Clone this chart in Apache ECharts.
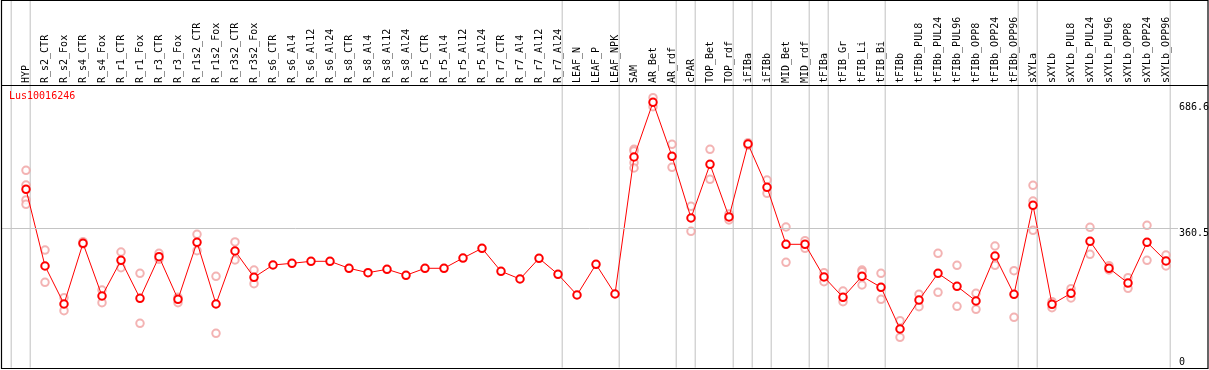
<!DOCTYPE html>
<html>
<head>
<meta charset="utf-8">
<style>
  html, body { margin: 0; padding: 0; background: #fff; }
  #chart { width: 1209px; height: 370px; }
</style>
<script src="https://cdn.jsdelivr.net/npm/echarts@6/dist/echarts.min.js"></script>
</head>
<body>
<div id="chart"></div>
<script>
const chartTitle = "Lus10016246";

const categories = [
  "HYP","R_s2_CTR","R_s2_Fox","R_s4_CTR","R_s4_Fox","R_r1_CTR","R_r1_Fox","R_r3_CTR","R_r3_Fox",
  "R_r1s2_CTR","R_r1s2_Fox","R_r3s2_CTR","R_r3s2_Fox","R_s6_CTR","R_s6_Al4","R_s6_Al12","R_s6_Al24",
  "R_s8_CTR","R_s8_Al4","R_s8_Al12","R_s8_Al24","R_r5_CTR","R_r5_Al4","R_r5_Al12","R_r5_Al24",
  "R_r7_CTR","R_r7_Al4","R_r7_Al12","R_r7_Al24","LEAF_N","LEAF_P","LEAF_NPK","SAM","AR_Bet","AR_rdf",
  "cPAR","TOP_Bet","TOP_rdf","iFIBa","iFIBb","MID_Bet","MID_rdf","tFIBa","tFIB_Gr","tFIB_Li","tFIB_Bi",
  "tFIBb","tFIBb_PUL8","tFIBb_PUL24","tFIBb_PUL96","tFIBb_OPP8","tFIBb_OPP24","tFIBb_OPP96",
  "sXYLa","sXYLb","sXYLb_PUL8","sXYLb_PUL24","sXYLb_PUL96","sXYLb_OPP8","sXYLb_OPP24","sXYLb_OPP96"
];

const meanValues = [
  461.4, 262.9, 164.6, 321.7, 185.3, 277.7, 179.3, 287.0, 176.8,
  324.3, 164.6, 301.8, 233.7, 265.5, 269.9, 275.1, 275.1,
  257.0, 245.6, 254.4, 238.9, 257.0, 257.0, 283.6, 308.7,
  249.2, 229.3, 282.9, 241.5, 187.9, 267.3, 190.5, 545.0, 686.6, 546.8,
  387.2, 526.1, 389.8, 578.7, 466.6, 319.1, 319.1, 234.5, 181.9, 236.3, 207.8,
  99.9, 174.9, 244.0, 210.4, 172.4, 288.8, 189.7,
  420.0, 163.8, 192.3, 326.9, 257.0, 218.9, 324.3, 275.9
];

const replicateValues = [
  [510.6, 472.6, 433.8, 422.6], [304.3, 220.8], [180.9, 147.3], [325.8, 319.9], [200.8, 168.0],
  [299.2, 258.5], [244.0, 114.6], [295.8, 280.3], [181.9, 168.0],
  [345.0, 302.5], [236.3, 88.8], [325.1, 278.5], [252.6, 217.1], [], [], [], [],
  [], [], [], [], [], [], [], [],
  [], [], [], [], [], [], [], [565.0, 560.6, 530.3, 516.6], [698.5, 675.2], [577.9, 518.4],
  [417.4, 352.7], [565.0, 487.3], [397.5, 388.0, 382.0], [582.0, 575.3], [485.5, 451.1],
  [363.9, 272.5], [328.4, 308.7], [245.6, 222.3], [198.2, 170.5], [252.6, 248.2, 213.8], [244.0, 176.8],
  [121.4, 78.4], [189.7, 157.6], [295.8, 194.9], [264.7, 158.6], [192.3, 150.9], [314.7, 264.7], [250.8, 130.2],
  [471.8, 431.2, 355.3], [170.5, 155.0], [204.2, 180.1], [363.1, 293.2], [263.7, 252.6], [232.7, 205.2],
  [368.3, 277.7], [291.4, 262.9]
];

const yTickLabels = [0, 360.5, 686.6];
const referenceLine = 360.5;
// last category of each sample group (vertical separators drawn after them)
const groupEnds = ["HYP","R_r7_Al24","LEAF_NPK","AR_rdf","cPAR","TOP_rdf","iFIBa","iFIBb",
  "MID_rdf","tFIBa","tFIB_Bi","tFIBb_OPP96","sXYLa","sXYLb_OPP96"];

// ---- layout constants ----
const W = 1209, H = 370;
const step = 19, firstX = 26;
const plotLeft = 1, plotRight = 1178;
const zeroY = 367.6, pxPerUnit = 0.3864;
const yMax = zeroY / pxPerUnit;
const xMin = (plotLeft - firstX) / step;
const xMax = (plotRight - firstX) / step;
const sepOffset = 0.22;
const font = "'DejaVu Sans Mono', monospace";

const meanData = meanValues.map((v, i) => [i, v]);
const repData = [];
replicateValues.forEach((arr, i) => arr.forEach(v => repData.push([i, v])));

const sepPositions = [-1 + sepOffset].concat(groupEnds.map(n => categories.indexOf(n) + sepOffset));

const chart = echarts.init(document.getElementById('chart'), null, { renderer: 'canvas' });
chart.setOption({
  animation: false,
  backgroundColor: '#ffffff',
  title: {
    text: chartTitle,
    left: 9, top: 91, padding: 0,
    textStyle: { fontFamily: font, fontSize: 10, fontWeight: 'normal', color: '#ff0000' }
  },
  grid: [
    { left: plotLeft, right: W - plotRight, top: 0, bottom: H - zeroY, outerBoundsMode: 'none', containLabel: false },
    { left: firstX - step / 2, right: W - (firstX + step * (categories.length - 0.5)), top: 85, bottom: H - zeroY,
      outerBoundsMode: 'none', containLabel: false }
  ],
  xAxis: [
    { type: 'value', gridIndex: 0, min: xMin, max: xMax, show: false },
    {
      type: 'category', gridIndex: 1, position: 'top', data: categories, boundaryGap: true,
      axisLine: { show: false }, axisTick: { show: false }, splitLine: { show: false },
      axisLabel: { interval: 0, rotate: 90, margin: 2, fontFamily: font, fontSize: 10, color: '#000' }
    }
  ],
  yAxis: [
    {
      type: 'value', gridIndex: 0, position: 'right', min: 0, max: yMax,
      axisLine: { show: false }, axisTick: { show: false }, splitLine: { show: false },
      axisLabel: {
        customValues: yTickLabels.filter(v => v !== 0), verticalAlign: 'top', margin: 1,
        fontFamily: font, fontSize: 10, color: '#000', formatter: v => String(v)
      }
    },
    { type: 'value', gridIndex: 1, min: 0, max: yMax, show: false },
    {
      type: 'value', gridIndex: 0, position: 'right', min: 0, max: yMax,
      axisLine: { show: false }, axisTick: { show: false }, splitLine: { show: false },
      axisLabel: {
        customValues: yTickLabels.filter(v => v === 0), verticalAlign: 'bottom', margin: 1,
        fontFamily: font, fontSize: 10, color: '#000', formatter: v => String(v)
      }
    }
  ],
  series: [
    {
      type: 'custom', xAxisIndex: 0, yAxisIndex: 0, clip: false,
      data: sepPositions.map(x => [x]),
      encode: { x: 0 },
      renderItem: function (params, api) {
        const x = api.value(0);
        const p0 = api.coord([x, 0]);
        const p1 = api.coord([x, yMax]);
        return {
          type: 'line',
          shape: { x1: p0[0], y1: p0[1], x2: p1[0], y2: p1[1] },
          style: { stroke: '#c0c0c0', lineWidth: 1 }
        };
      }
    },
    {
      type: 'scatter', xAxisIndex: 0, yAxisIndex: 0, data: repData,
      symbol: 'emptyCircle', symbolSize: 7.5,
      itemStyle: { color: '#f0a0a0', borderColor: '#f0a0a0', borderWidth: 1.2 },
      markLine: {
        silent: true, symbol: 'none', animation: false,
        label: { show: false },
        lineStyle: { color: '#c4c4c4', width: 1, type: 'solid' },
        emphasis: { disabled: true },
        data: [{ yAxis: referenceLine }]
      }
    },
    {
      type: 'line', xAxisIndex: 0, yAxisIndex: 0, data: meanData,
      symbol: 'emptyCircle', symbolSize: 7.5, showAllSymbol: true,
      lineStyle: { color: '#ff0000', width: 1 },
      itemStyle: { color: '#ff0000', borderColor: '#ff0000', borderWidth: 1.4 }
    }
  ],
  graphic: [
    { type: 'rect', z: 100, silent: true, shape: { x: 1.5, y: 0.5, width: 1206.5, height: 368 },
      style: { fill: 'none', stroke: '#000', lineWidth: 1.2 } },
    { type: 'line', z: 100, silent: true, shape: { x1: 1, y1: 85.5, x2: 1208, y2: 85.5 },
      style: { stroke: '#000', lineWidth: 1.2 } }
  ]
});
</script>
</body>
</html>
